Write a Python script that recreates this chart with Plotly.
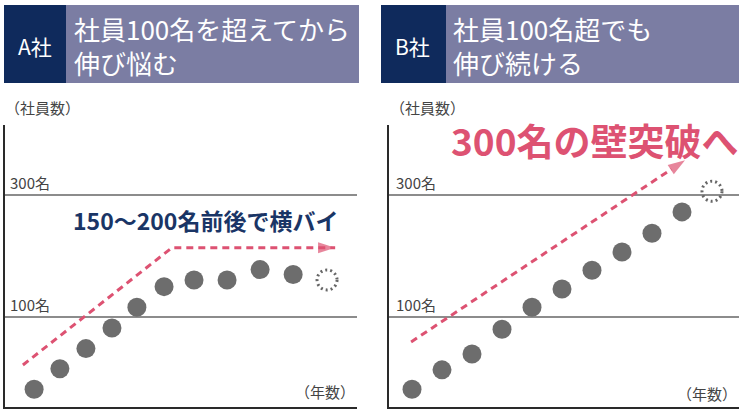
import plotly.graph_objects as go

# ---------------- data ----------------
# A社: schematic employee counts per year (x in year units, y in 名)
a_years = [1.04, 1.96, 2.89, 3.82, 4.71, 5.68, 6.75, 7.93, 9.11, 10.29]
a_staff = [-19, 15, 48, 82, 116, 150, 161, 161, 178, 170]
a_next_year = 11.5
a_next_staff = 161
a_trend_x = [0.64, 5.96, 11.79]
a_trend_y = [21, 214, 214]

# B社
b_years = [1, 2, 3, 4, 5, 6, 7, 8, 9, 10]
b_staff = [-19, 13, 39, 80, 116, 146, 177, 207, 238, 273]
b_next_year = 11
b_next_staff = 307
b_trend_x = [0.97, 10.1]
b_trend_y = [59, 358]

grid_vals = [100, 300]
grid_text = ["100名", "300名"]

a_label = "A社"
a_title = "社員100名を超えてから<br>伸び悩む"
a_note = "150〜200名前後で横バイ"
b_label = "B社"
b_title = "社員100名超でも<br>伸び続ける"
b_note = "300名の壁突破へ"
y_title = "（社員数）"
x_title = "（年数）"

# ---------------- style ----------------
W, H = 739, 409
FONT = "Noto Sans CJK JP"
NAVY = "#0f2a5c"
LAV = "#7b7da3"
DOT = "#6d6d6d"
PINK = "#dd5272"
GRID = "#8c8c8c"
AXIS = "#2a2a2a"
TXT = "#444444"

def px(x):
    return x / W

def py(y):
    return 1 - y / H

fig = go.Figure()

# dots
fig.add_trace(go.Scatter(x=a_years, y=a_staff, mode="markers",
                         marker=dict(size=19, color=DOT), xaxis="x", yaxis="y",
                         hoverinfo="skip"))
fig.add_trace(go.Scatter(x=b_years, y=b_staff, mode="markers",
                         marker=dict(size=19, color=DOT), xaxis="x2", yaxis="y2",
                         hoverinfo="skip"))

# trend arrows
def arrow_trace(xs, ys, xa, ya):
    n = len(xs)
    return go.Scatter(
        x=xs, y=ys, mode="lines+markers", xaxis=xa, yaxis=ya,
        line=dict(color=PINK, width=3, dash="7px,5px"),
        marker=dict(symbol="arrow", angleref="previous",
                    size=[0] * (n - 1) + [18], color=PINK,
                    line=dict(width=0)),
        hoverinfo="skip")

fig.add_trace(arrow_trace(a_trend_x, a_trend_y, "x", "y"))
fig.add_trace(arrow_trace(b_trend_x, b_trend_y, "x2", "y2"))

shapes = []
# dashed circles for the "next" year
for xr, yr, xv, yv in [("x", "y", a_next_year, a_next_staff),
                       ("x2", "y2", b_next_year, b_next_staff)]:
    shapes.append(dict(type="circle", xref=xr, yref=yr,
                       xsizemode="pixel", ysizemode="pixel",
                       xanchor=xv, yanchor=yv, x0=-10, x1=10, y0=-10, y1=10,
                       line=dict(color="#666666", width=3, dash="2px,3px")))

# header boxes
for x0, x1, x2 in [(4, 66, 359), (381, 446, 739)]:
    shapes.append(dict(type="rect", xref="paper", yref="paper",
                       x0=px(x0), x1=px(x1), y0=py(83), y1=py(5),
                       fillcolor=NAVY, line=dict(width=0), layer="below"))
    shapes.append(dict(type="rect", xref="paper", yref="paper",
                       x0=px(x1), x1=px(x2), y0=py(83), y1=py(5),
                       fillcolor=LAV, line=dict(width=0), layer="below"))

ann = []

def text(t, x, y, size, color, xanchor="center", yanchor="middle",
         xref="paper", yref="paper", align="left", yshift=0):
    ann.append(dict(text=t, x=x, y=y, xref=xref, yref=yref,
                    xanchor=xanchor, yanchor=yanchor, align=align,
                    showarrow=False, yshift=yshift,
                    font=dict(family=FONT, size=size, color=color)))

# header texts
text(a_label, px(35), py(46), 21, "white")
text(b_label, px(413), py(46), 21, "white")
text(a_title, px(72), py(46), 26, "white", xanchor="left")
text(b_title, px(451), py(46), 26, "white", xanchor="left")

# axis titles
for x in (3, 388):
    text(y_title, px(x), py(107), 15, TXT, xanchor="left")
text(x_title, px(357), py(391), 15, TXT, xanchor="right")
text(x_title, px(739), py(393), 15, TXT, xanchor="right")

# grid labels
for v, t in zip(grid_vals, grid_text):
    text(t, px(8), v, 15, TXT, xanchor="left", yanchor="bottom", yref="y")
    text(t, px(394), v, 15, TXT, xanchor="left", yanchor="bottom", yref="y2")

# notes
text("<b>" + a_note + "</b>", px(205), py(220), 23, "#1a3566")
text("<b>" + b_note + "</b>", px(595), py(140), 37, PINK)

yr = [-48.1, 416]
common_y = dict(range=yr, tickvals=grid_vals, showticklabels=False,
                showgrid=True, gridcolor=GRID, gridwidth=1.5, zeroline=False,
                showline=True, linecolor=AXIS, linewidth=2, ticks="",
                domain=[py(407), py(125)], fixedrange=True)
common_x = dict(showgrid=False, zeroline=False, showticklabels=False,
                showline=True, linecolor=AXIS, linewidth=2, ticks="",
                fixedrange=True)

fig.update_layout(
    width=W, height=H, margin=dict(l=0, r=0, t=0, b=0),
    paper_bgcolor="white", plot_bgcolor="white", showlegend=False,
    xaxis=dict(common_x, range=[0, 12.57], domain=[px(5), px(357)], anchor="y"),
    yaxis=dict(common_y, anchor="x"),
    xaxis2=dict(common_x, range=[0.233, 11.9], domain=[px(389), 1], anchor="y2"),
    yaxis2=dict(common_y, anchor="x2"),
    shapes=shapes, annotations=ann,
)

fig.write_html("out.html")
